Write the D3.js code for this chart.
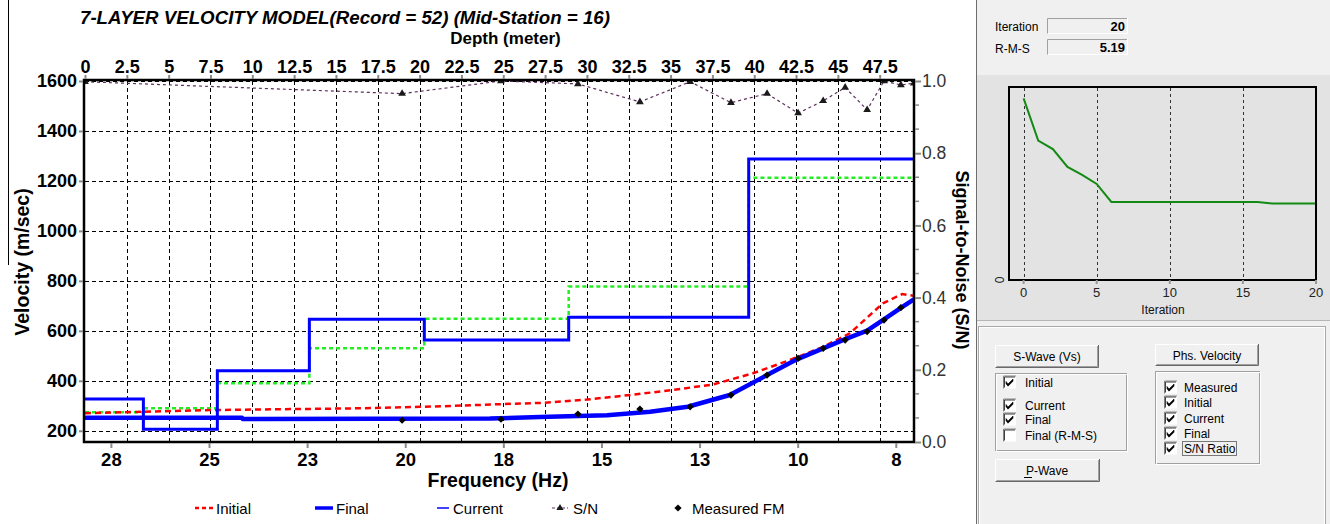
<!DOCTYPE html>
<html><head><meta charset="utf-8">
<script src="https://cdn.jsdelivr.net/npm/d3@7"></script>
<style>body{margin:0;background:#fff;overflow:hidden}svg text{font-family:"Liberation Sans",Arial,sans-serif}</style>
</head><body><svg id="c" width="1330" height="524"></svg>
<script>
// ---------- data ----------
const depthTicks=[0,2.5,5,7.5,10,12.5,15,17.5,20,22.5,25,27.5,30,32.5,35,37.5,40,42.5,45,47.5];
const freqTickValues=[28.2,25.7,23.2,20.7,18.2,15.7,13.2,10.7,8.2];
const freqTickLabels=["28","25","23","20","18","15","13","10","8"];
const velTicks=[200,400,600,800,1000,1200,1400,1600];
const snTicks=[0,0.2,0.4,0.6,0.8,1.0];

const layerBottoms=[3.49,7.91,13.41,20.28,28.91,39.67];
const finalVs=[327,206,440,646,563,654,1288];
const initialVs=[274,290,390,530,648,777,1213];

const initFreq=[28.86,27.38,25.60,21.78,20.33,19.56,18.36,17.14,16.07,14.97,13.90,12.86,11.84,10.90,10.05,9.37,8.53,8.04,7.74];
const initVel=[270,276,283,290,296,299,306,312,325,343,363,385,430,483,536,590,710,747,740];

const finalFreq=[28.86,24.86,24.84,18.54,17.27,15.56,14.46,13.50,12.43,11.48,10.72,10.05,9.55,8.93,8.53,8.09,7.74];
const finalVel=[252,252,247,249,255,262,276,296,343,423,486,530,563,601,643,690,726];

const measFreq=[20.78,18.26,16.30,14.72,13.44,12.40,11.48,10.69,10.05,9.49,8.93,8.50,8.07];
const measVel=[242,246,267,287,296,343,423,490,530,563,597,643,693];

const snFreq=[28.86,20.78,18.26,16.30,14.72,13.44,12.40,11.48,10.69,10.05,9.49,8.93,8.50,8.07,7.74];
const snVal=[0.998,0.965,1.0,0.992,0.942,0.998,0.940,0.965,0.911,0.945,0.982,0.920,1.0,0.989,0.994];

const rmsIter=[0,1,2,3,4,5,6,7,8,9,10,11,12,13,14,15,16,17,18,19,20];
const rmsVal=[12.33,9.46,8.89,7.67,7.13,6.52,5.30,5.30,5.30,5.30,5.30,5.30,5.30,5.30,5.30,5.30,5.30,5.19,5.19,5.19,5.19];
const iterTicks=[0,5,10,15,20];

const legendLabels=["Initial","Final","Current","S/N","Measured FM"];
const sWaveItems=["Initial","Current","Final","Final (R-M-S)"];
const sWaveChecked=[true,true,true,false];
const phsItems=["Measured","Initial","Current","Final","S/N Ratio"];
const phsChecked=[true,true,true,true,true];
const iterationValue="20";
const rmsValue="5.19";

// ---------- geometry ----------
const PL=85,PR=914,PT=81,PB=442;
const svg=d3.select("#c");
svg.append("rect").attr("width",1330).attr("height",524).attr("fill","#fff");

const xDepth=d3.scaleLinear([0,49.55],[PL,PR]);
const xFreq=d3.scaleLinear([28.86,7.736],[PL,PR]);
const yVel=d3.scaleLinear([155,1600],[PB,PT]);
const ySN=d3.scaleLinear([0,1],[PB,PT]);

// odd left line
svg.append("line").attr("x1",8.5).attr("x2",8.5).attr("y1",0).attr("y2",265).attr("stroke","#000").attr("stroke-width",1);

// title
svg.append("text").attr("x",80).attr("y",24).attr("font-size",18.7).attr("font-weight","bold").attr("font-style","italic")
  .text("7-LAYER VELOCITY MODEL(Record = 52) (Mid-Station = 16)");
svg.append("text").attr("x",(PL+PR)/2+6).attr("y",44).attr("text-anchor","middle").attr("font-size",17).attr("font-weight","bold").text("Depth (meter)");

// clip
svg.append("defs").append("clipPath").attr("id","pc").append("rect").attr("x",PL-1).attr("y",PT-2).attr("width",PR-PL+2).attr("height",PB-PT+3);

// grid
const grid=svg.append("g").attr("stroke","#000").attr("stroke-width",1).attr("stroke-dasharray","4,3");
velTicks.forEach(v=>grid.append("line").attr("x1",PL).attr("x2",PR).attr("y1",Math.round(yVel(v))+0.5).attr("y2",Math.round(yVel(v))+0.5));
depthTicks.filter(d=>d>0).forEach(d=>grid.append("line").attr("y1",PT).attr("y2",PB).attr("x1",Math.round(xDepth(d))+0.5).attr("x2",Math.round(xDepth(d))+0.5));

const plot=svg.append("g").attr("clip-path","url(#pc)");

// step profiles
function stepPts(vals){const p=vals.map((v,i)=>[i===0?0:layerBottoms[i-1],v]);p.push([49.55,vals[vals.length-1]]);return p;}
const stepLine=d3.line().x(d=>xDepth(d[0])).y(d=>yVel(d[1])).curve(d3.curveStepAfter);
plot.append("path").attr("d",stepLine(stepPts(initialVs))).attr("fill","none").attr("stroke","#22ee22").attr("stroke-width",2.5).attr("stroke-dasharray","4,3");

// dispersion curves
const fLine=d3.line().x(d=>xFreq(d[0])).y(d=>yVel(d[1]));
plot.append("path").attr("d",fLine(initFreq.map((f,i)=>[f,initVel[i]]))).attr("fill","none").attr("stroke","#ff0000").attr("stroke-width",2.5).attr("stroke-dasharray","6,4");
plot.append("path").attr("d",stepLine(stepPts(finalVs))).attr("fill","none").attr("stroke","#0000ff").attr("stroke-width",3);
plot.append("path").attr("d",fLine(finalFreq.map((f,i)=>[f,finalVel[i]]))).attr("fill","none").attr("stroke","#0000ff").attr("stroke-width",4.5).attr("stroke-linejoin","round");
plot.selectAll(".meas").data(measFreq).enter().append("path")
  .attr("transform",(f,i)=>`translate(${xFreq(f)},${yVel(measVel[i])}) rotate(45)`)
  .attr("d",d3.symbol(d3.symbolSquare,26)).attr("fill","#000");

// S/N
const snLine=d3.line().x(d=>xFreq(d[0])).y(d=>ySN(d[1]));
plot.append("path").attr("d",snLine(snFreq.map((f,i)=>[f,snVal[i]]))).attr("fill","none").attr("stroke","#5e2f5e").attr("stroke-width",1.2).attr("stroke-dasharray","3,3");
plot.selectAll(".sn").data(snFreq).enter().append("path")
  .attr("transform",(f,i)=>`translate(${xFreq(f)},${ySN(snVal[i])})`)
  .attr("d",d3.symbol(d3.symbolTriangle,26)).attr("fill","#1a1a1a");

// frame
svg.append("rect").attr("x",PL-1).attr("y",PT-1).attr("width",PR-PL+1).attr("height",PB-PT+1).attr("fill","none").attr("stroke","#000").attr("stroke-width",2.5);

// axes
function styleAxis(g,size,weight,fill){g.select(".domain").remove();g.selectAll(".tick line").attr("stroke","#8a8a8a").attr("stroke-width",2);
  g.selectAll("text").attr("font-size",size).attr("font-weight",weight).attr("fill",fill).attr("font-family","Liberation Sans, Arial, sans-serif");}
const gL=svg.append("g").attr("transform",`translate(${PL-2},0)`).call(d3.axisLeft(yVel).tickValues(velTicks).tickFormat(d3.format("d")).tickSize(4).tickPadding(2));
styleAxis(gL,18,"bold","#000");
const gT=svg.append("g").attr("transform",`translate(0,${PT-2})`).call(d3.axisTop(xDepth).tickValues(depthTicks).tickFormat(d3.format("")).tickSize(4).tickPadding(2));
styleAxis(gT,18,"bold","#000");
const gB=svg.append("g").attr("transform",`translate(0,${PB+1})`).call(d3.axisBottom(xFreq).tickValues(freqTickValues).tickFormat((d,i)=>freqTickLabels[i]).tickSize(5).tickPadding(5));
styleAxis(gB,18.5,"bold","#000");
const gR=svg.append("g").attr("transform",`translate(${PR+1},0)`).call(d3.axisRight(ySN).tickValues(snTicks).tickFormat(d3.format(".1f")).tickSize(6).tickPadding(1));
styleAxis(gR,17.5,"normal","#333");
// minor ticks on right
const minor=[];for(let k=0;k<=15;k++){if(k%3)minor.push(k/15);}
svg.append("g").selectAll("line").data(minor).enter().append("line").attr("x1",PR+1).attr("x2",PR+5)
  .attr("y1",d=>ySN(d)).attr("y2",d=>ySN(d)).attr("stroke","#8a8a8a").attr("stroke-width",1.5);

svg.append("text").attr("transform","translate(29,262) rotate(-90)").attr("text-anchor","middle").attr("font-size",19.5).attr("font-weight","bold").text("Velocity (m/sec)");
svg.append("text").attr("transform","translate(956,260) rotate(90)").attr("text-anchor","middle").attr("font-size",18).attr("font-weight","bold").text("Signal-to-Noise (S/N)");
svg.append("text").attr("x",498).attr("y",487).attr("text-anchor","middle").attr("font-size",19.5).attr("font-weight","bold").text("Frequency (Hz)");

// legend
const lg=svg.append("g");
const LY=508;
lg.append("line").attr("x1",195).attr("x2",213).attr("y1",LY).attr("y2",LY).attr("stroke","#ff0000").attr("stroke-width",2.5).attr("stroke-dasharray","4,3");
lg.append("line").attr("x1",315).attr("x2",333).attr("y1",LY).attr("y2",LY).attr("stroke","#0000ff").attr("stroke-width",3.5);
lg.append("line").attr("x1",437).attr("x2",449).attr("y1",LY).attr("y2",LY).attr("stroke","#0000ff").attr("stroke-width",1.5);
lg.append("line").attr("x1",552).attr("x2",568).attr("y1",LY).attr("y2",LY).attr("stroke","#5e2f5e").attr("stroke-width",1.2).attr("stroke-dasharray","3,2");
lg.append("path").attr("transform",`translate(560,${LY})`).attr("d",d3.symbol(d3.symbolTriangle,22)).attr("fill","#1a1a1a");
lg.append("path").attr("transform",`translate(678,${LY}) rotate(45)`).attr("d",d3.symbol(d3.symbolSquare,26)).attr("fill","#000");
const lx=[216,336,453,573,692];
legendLabels.forEach((t,i)=>lg.append("text").attr("x",lx[i]).attr("y",LY+5.5).attr("font-size",15).text(t));

// ---------- right panel ----------
const rp=svg.append("g");
rp.append("rect").attr("x",977).attr("y",0).attr("width",353).attr("height",524).attr("fill","#f0f0f0");
rp.append("rect").attr("x",977).attr("y",75).attr("width",353).attr("height",245).attr("fill","#e3e3e3");
rp.append("line").attr("x1",976.5).attr("x2",976.5).attr("y1",0).attr("y2",524).attr("stroke","#6d6d6d");
rp.append("line").attr("x1",977).attr("x2",1330).attr("y1",320.5).attr("y2",320.5).attr("stroke","#b5b5b5");
rp.append("rect").attr("x",978.5).attr("y",326.5).attr("width",347).attr("height",200).attr("fill","none").attr("stroke","#a8a8a8");
rp.append("rect").attr("x",979.5).attr("y",327.5).attr("width",345).attr("height",200).attr("fill","none").attr("stroke","#fff");

function sunken(x,y,w,h){rp.append("rect").attr("x",x).attr("y",y).attr("width",w).attr("height",h).attr("fill","#f0f0f0");
  rp.append("path").attr("d",`M${x+0.5},${y+h}V${y+0.5}H${x+w}`).attr("stroke","#a0a0a0").attr("fill","none");
  rp.append("path").attr("d",`M${x+0.5},${y+h-0.5}H${x+w-0.5}V${y}`).attr("stroke","#fff").attr("fill","none");}
function raised(x,y,w,h){rp.append("rect").attr("x",x).attr("y",y).attr("width",w).attr("height",h).attr("fill","#f0f0f0");
  rp.append("path").attr("d",`M${x+0.5},${y+h}V${y+0.5}H${x+w}`).attr("stroke","#fff").attr("fill","none");
  rp.append("path").attr("d",`M${x+0.5},${y+h-0.5}H${x+w-0.5}V${y}`).attr("stroke","#696969").attr("fill","none");
  rp.append("path").attr("d",`M${x+1.5},${y+h-1.5}H${x+w-1.5}V${y+1}`).attr("stroke","#a0a0a0").attr("fill","none");}
function groupBox(x,y,w,h){rp.append("rect").attr("x",x+0.5).attr("y",y+0.5).attr("width",w).attr("height",h).attr("fill","none").attr("stroke","#a0a0a0");
  rp.append("rect").attr("x",x+1.5).attr("y",y+1.5).attr("width",w).attr("height",h).attr("fill","none").attr("stroke","#fff");}
function checkbox(x,y,on){rp.append("rect").attr("x",x).attr("y",y).attr("width",13).attr("height",13).attr("fill","#fff");
  rp.append("path").attr("d",`M${x+0.5},${y+13}V${y+0.5}H${x+13}`).attr("stroke","#808080").attr("fill","none");
  rp.append("path").attr("d",`M${x+1.5},${y+12}V${y+1.5}H${x+12}`).attr("stroke","#404040").attr("fill","none");
  if(on)rp.append("path").attr("d",`M${x+3},${y+6}l2,2.5l5,-5v2.2l-5,5l-2,-2.5z`).attr("fill","#000").attr("stroke","#000").attr("stroke-width",0.6);}
const T=(x,y,t,o={})=>rp.append("text").attr("x",x).attr("y",y).attr("font-size",o.fs||12).attr("font-weight",o.fw||"normal").attr("text-anchor",o.a||"start").attr("fill","#000").text(t);

T(995,31,"Iteration");
sunken(1047,18,81,16); T(1125,31,iterationValue,{fw:"bold",a:"end",fs:13});
T(995,53,"R-M-S");
sunken(1047,39,81,16); T(1125,52,rmsValue,{fw:"bold",a:"end",fs:13});

// iteration chart
const xIt=d3.scaleLinear([-1,20],[1009,1316]);
const yRms=d3.scaleLinear([0,13.1],[280,87]);
const ig=rp.append("g");
ig.append("rect").attr("x",1009).attr("y",87).attr("width",307).attr("height",193).attr("fill","#e3e3e3");
iterTicks.filter(v=>v<20).forEach(v=>ig.append("line").attr("x1",Math.round(xIt(v))+0.5).attr("x2",Math.round(xIt(v))+0.5).attr("y1",88).attr("y2",280).attr("stroke","#333").attr("stroke-dasharray","3,3"));
ig.append("path").attr("d",d3.line().x(d=>xIt(d[0])).y(d=>yRms(d[1]))(rmsIter.map((v,i)=>[v,rmsVal[i]]))).attr("fill","none").attr("stroke","#138a13").attr("stroke-width",2);
ig.append("rect").attr("x",1009).attr("y",87).attr("width",307).attr("height",193).attr("fill","none").attr("stroke","#000").attr("stroke-width",2);
iterTicks.forEach(v=>{ig.append("line").attr("x1",xIt(v)).attr("x2",xIt(v)).attr("y1",280).attr("y2",284).attr("stroke","#999").attr("stroke-width",2);
  ig.append("text").attr("x",xIt(v)).attr("y",297).attr("text-anchor","middle").attr("font-size",13).attr("fill","#222").text(v);});
ig.append("text").attr("x",1163).attr("y",314).attr("text-anchor","middle").attr("font-size",12).attr("fill","#111").text("Iteration");
ig.append("text").attr("transform","translate(1004,280) rotate(-90)").attr("text-anchor","middle").attr("font-size",12).attr("fill","#222").text("0");

// buttons & checkboxes
raised(995,345,104,23); T(1047,361,"S-Wave (Vs)",{a:"middle"});
groupBox(995,373,131,77);
const swY=[382,405,419,435];
sWaveItems.forEach((t,i)=>{checkbox(1003,swY[i]-6.5,sWaveChecked[i]);T(1025,swY[i]+4.5,t);});
raised(995,459,105,23); T(1047,475,"P-Wave",{a:"middle"});
rp.append("line").attr("x1",1024).attr("x2",1032).attr("y1",477.5).attr("y2",477.5).attr("stroke","#000");
raised(1155,344,104,22); T(1207,360,"Phs. Velocity",{a:"middle"});
groupBox(1155,371,104,92);
const phY=[387,402,418,433,448];
phsItems.forEach((t,i)=>{checkbox(1164,phY[i]-6.5,phsChecked[i]);T(1184,phY[i]+4.5,t);});
rp.append("rect").attr("x",1182.5).attr("y",441.5).attr("width",54).attr("height",14).attr("fill","none").attr("stroke","#000").attr("stroke-dasharray","1,1");
</script></body></html>
